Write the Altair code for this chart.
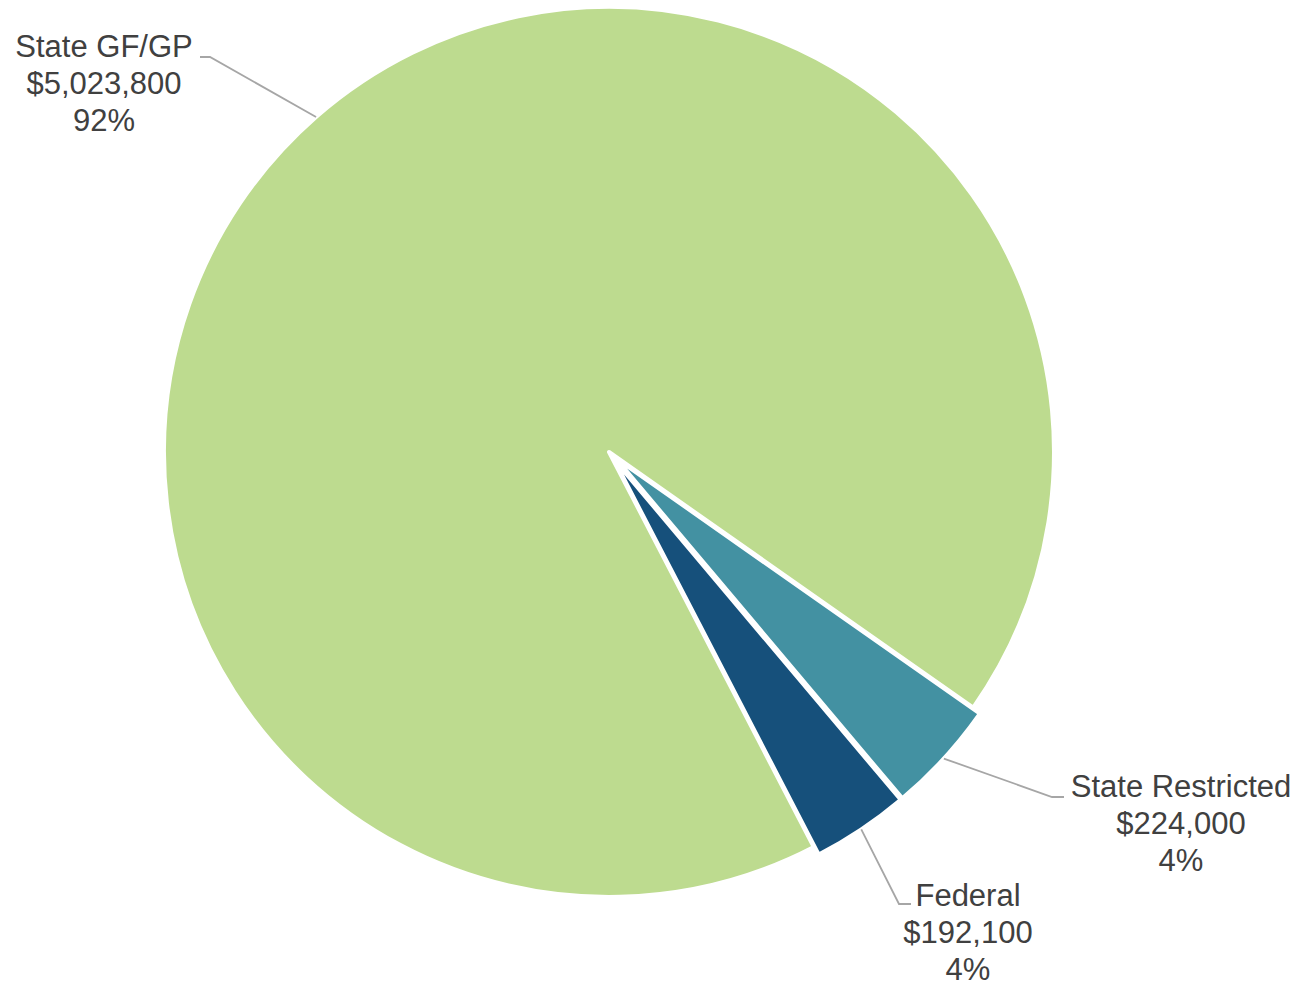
import math
import pandas as pd
import altair as alt

# ---- data ----
categories = ["State GF/GP", "State Restricted", "Federal"]
amounts = [5023800, 224000, 192100]

# ---- style / layout ----
colors = ["#BDDB8F", "#4391A2", "#16507B"]
explode = [0, 9, 9]                     # px pulled out from center
W, H = 1283, 979                        # plot size (page minus 8px margins)
CX, CY = 609 - 8, 452 - 8               # pie center in plot px
R = 445
START_DEG = 152.6                       # angle of first slice (clockwise from 12 o'clock)
# label anchor (center x, first baseline y) and elbow/end of leader, in page px
label_pos = {
    "State GF/GP": (104, 57),
    "State Restricted": (1181, 797),
    "Federal": (968, 906),
}
leader_elbow = {
    "State GF/GP": ((210, 57), (200, 57)),
    "State Restricted": ((1052, 797), (1064, 797)),
    "Federal": ((899, 904), (911, 904)),
}

total = float(sum(amounts))
rows, line_rows, text_rows = [], [], []
cum = 0.0
for i, (c, v) in enumerate(zip(categories, amounts)):
    f0 = cum / total
    cum += v
    f1 = cum / total
    mid = math.radians(START_DEG + 360 * (f0 + f1) / 2)
    ux, uy = math.sin(mid), -math.cos(mid)
    cx, cy = CX + explode[i] * ux, CY + explode[i] * uy
    rows.append(dict(cat=c, t0=f0, t1=f1, cx=cx, cy=cy))
    sx, sy = cx + R * ux, cy + R * uy
    (ex, ey), (fx, fy) = leader_elbow[c]
    line_rows += [
        dict(cat=c, ord=0, x=sx, y=sy),
        dict(cat=c, ord=1, x=ex - 8, y=ey - 8),
        dict(cat=c, ord=2, x=fx - 8, y=fy - 8),
    ]
    pct = round(100 * v / total)
    lx, ly = label_pos[c]
    text_rows.append(dict(cat=c, x=lx - 8, y=ly - 8,
                          label=f"{c}\n${v:,.0f}\n{pct}%"))

df = pd.DataFrame(rows)
df_lines = pd.DataFrame(line_rows)
df_text = pd.DataFrame(text_rows)

a0 = math.radians(START_DEG)
theta_scale = alt.Scale(domain=[0, 1], range=[a0, a0 + 2 * math.pi])
xs = alt.Scale(domain=[0, W], nice=False, zero=False)
ys = alt.Scale(domain=[0, H], nice=False, zero=False, reverse=True)

layers = []
for i, c in enumerate(categories):
    r = df[df.cat == c].iloc[0]
    layers.append(
        alt.Chart(df[df.cat == c])
        .mark_arc(x=float(r.cx), y=float(r.cy), radius=R, fill=colors[i],
                  stroke="white", strokeWidth=4, strokeJoin="round")
        .encode(theta=alt.Theta("t0:Q", scale=theta_scale), theta2="t1:Q")
    )

lines = (
    alt.Chart(df_lines)
    .mark_line(color="#A6A6A6", strokeWidth=1.8)
    .encode(
        x=alt.X("x:Q", scale=xs, axis=None),
        y=alt.Y("y:Q", scale=ys, axis=None),
        detail="cat:N",
        order="ord:Q",
    )
)

texts = (
    alt.Chart(df_text)
    .mark_text(font="Liberation Sans", fontSize=31, color="#404040",
               align="center", baseline="alphabetic", lineBreak="\n",
               lineHeight=37)
    .encode(
        x=alt.X("x:Q", scale=xs, axis=None),
        y=alt.Y("y:Q", scale=ys, axis=None),
        text="label:N",
    )
)

chart = (
    alt.layer(*layers, lines, texts)
    .properties(width=W, height=H, padding=0, autosize="none", background="white")
    .configure_view(stroke=None)
)

chart.save("out.html", embed_options={"renderer": "svg", "actions": False})
